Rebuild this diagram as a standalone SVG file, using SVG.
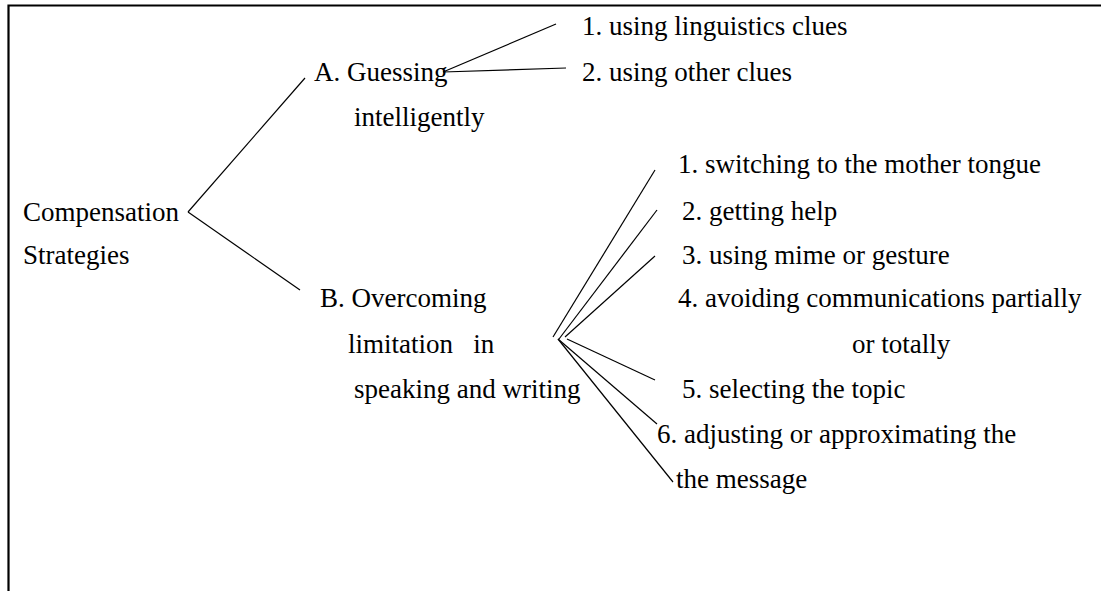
<svg xmlns="http://www.w3.org/2000/svg" width="1101" height="591" viewBox="0 0 1101 591">
<style>
text{font-family:"Liberation Serif","Times New Roman",serif;font-size:27px;fill:#000}
.c line{stroke:#000;stroke-width:1.2;fill:none}
.frame{stroke:#000;stroke-width:2.2;fill:none}
</style>
<rect width="1101" height="591" fill="#fff"/>
<path class="frame" d="M8.5,591 V5.5 H1101"/>
<g class="c" id="connectors">
<line x1="188" y1="212" x2="305" y2="78"/>
<line x1="188" y1="212" x2="300" y2="290"/>
<line x1="443" y1="72" x2="556" y2="24"/>
<line x1="443" y1="72" x2="566" y2="68"/>
<line x1="553" y1="337" x2="655" y2="170"/>
<line x1="559" y1="339" x2="657" y2="210"/>
<line x1="565" y1="337" x2="655" y2="256"/>
<line x1="567" y1="339" x2="655" y2="380"/>
<line x1="558" y1="339" x2="657" y2="424"/>
<line x1="558" y1="339" x2="673" y2="482"/>
</g>
<g id="root"><text x="23" y="221">Compensation</text><text x="23" y="264">Strategies</text></g>
<g id="A"><text x="314" y="81">A. Guessing</text><text x="354" y="126">intelligently</text></g>
<g id="A1"><text x="582" y="35">1. using linguistics clues</text></g>
<g id="A2"><text x="582" y="81">2. using other clues</text></g>
<g id="B"><text x="320" y="307">B. Overcoming</text><text x="348" y="353" xml:space="preserve">limitation   in</text><text x="354" y="398">speaking and writing</text></g>
<g id="B1"><text x="678" y="173">1. switching to the mother tongue</text></g>
<g id="B2"><text x="682" y="220">2. getting help</text></g>
<g id="B3"><text x="682" y="264">3. using mime or gesture</text></g>
<g id="B4"><text x="678" y="307">4. avoiding communications partially</text><text x="852" y="353">or totally</text></g>
<g id="B5"><text x="682" y="398">5. selecting the topic</text></g>
<g id="B6"><text x="657" y="443">6. adjusting or approximating the</text><text x="676" y="488">the message</text></g>
</svg>
